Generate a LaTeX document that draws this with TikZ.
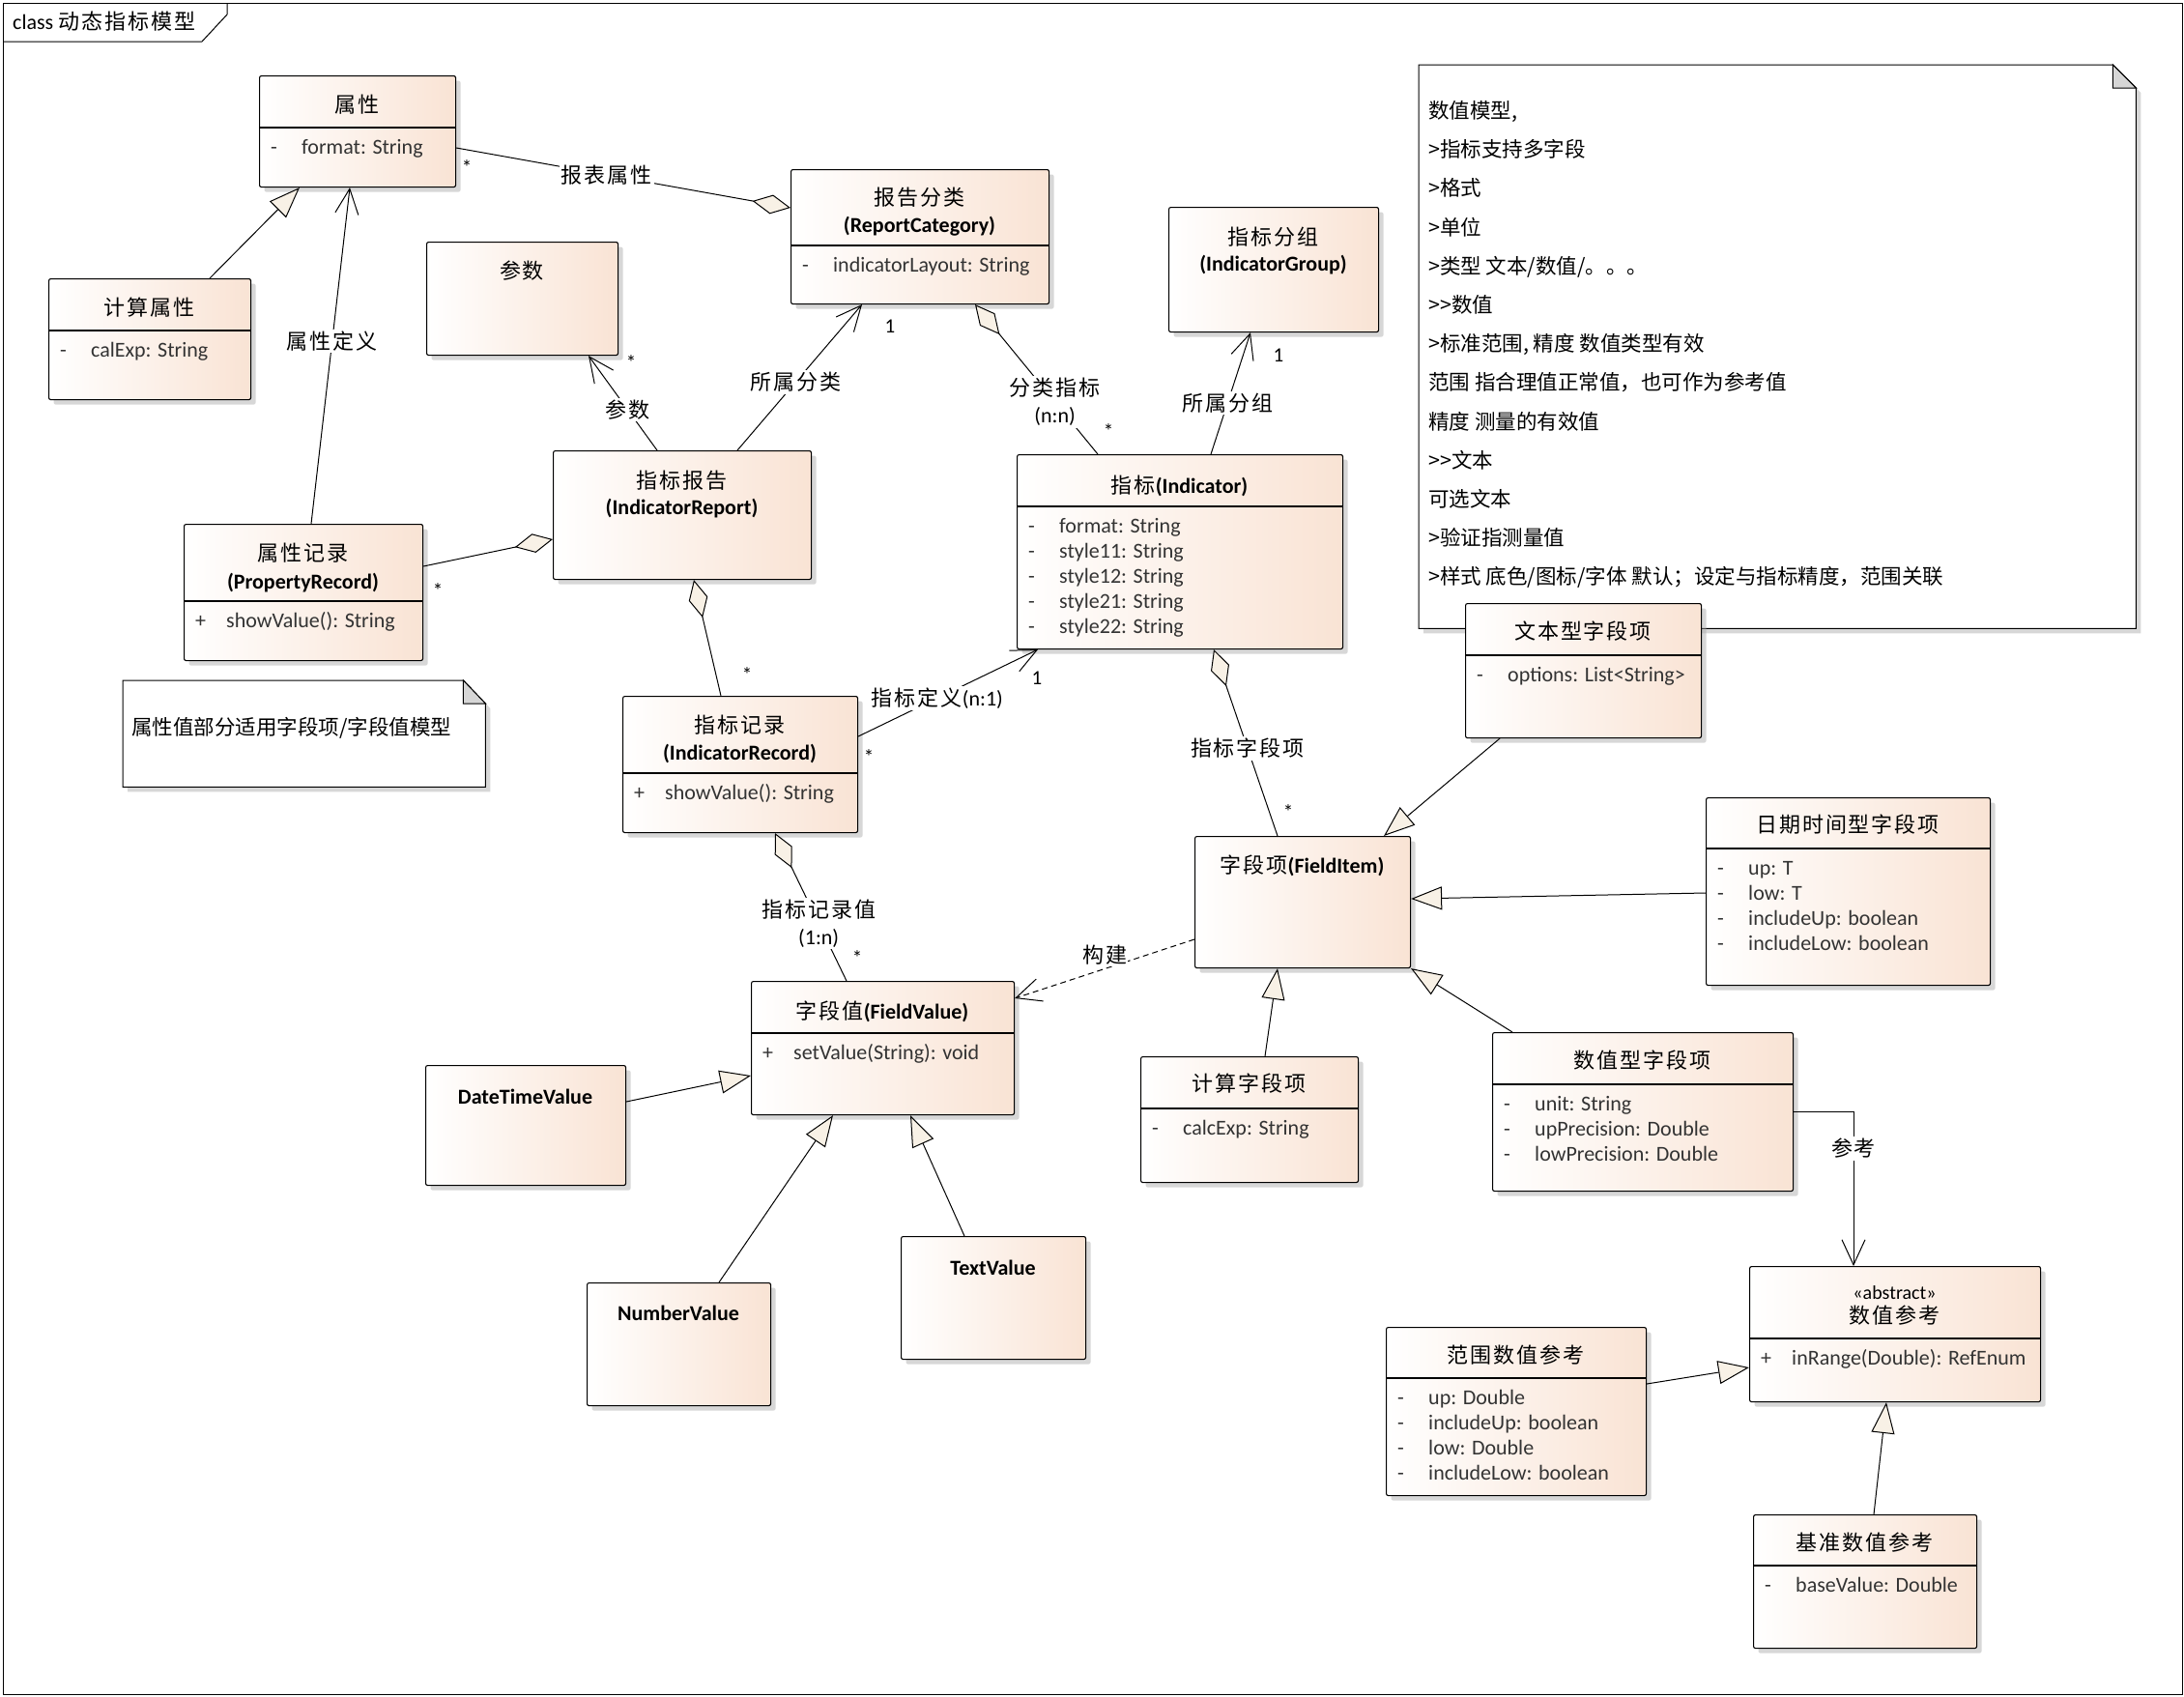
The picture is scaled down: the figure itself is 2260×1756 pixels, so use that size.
\documentclass[tikz,border=0pt]{standalone}
\usepackage{fontspec}
\setmainfont{Carlito}
\newfontfamily\cjk{Noto Sans CJK SC}
\newfontfamily\cjkw[LetterSpace=9]{Noto Sans CJK SC}
\usetikzlibrary{arrows.meta, shadows}
\definecolor{clspeach}{HTML}{F9E3D4}
\definecolor{tipfill}{HTML}{F8F1E6}
\definecolor{foldgray}{HTML}{D6D6D6}
\definecolor{membtext}{HTML}{333333}

\newcommand{\zh}[1]{{\cjkw #1}}
% divider plus one line per member
\newcommand{\members}[4]{%
  \draw[line width=1.1pt] ([yshift=-#2pt]#1.north west) -- ([yshift=-#2pt]#1.north east);
  \foreach \txt [count=\i from 0] in {#4} {%
    \node[vis] (#1-v\i) at ([xshift=12pt, yshift=-#2pt-22pt-26pt*\i]#1.north west) {#3};
    \node[memb] (#1-m\i) at ([xshift=44pt, yshift=-#2pt-22pt-26pt*\i]#1.north west) {\txt};
  }}

\begin{document}
\begin{tikzpicture}[
  x=1pt, y=-1pt,
  frm/.style={draw, line width=1pt, anchor=north west, inner sep=0pt},
  cls/.style={draw, line width=1.1pt, rounded corners=2pt, anchor=north west, inner sep=0pt,
    left color=white, right color=clspeach,
    drop shadow={shadow xshift=5pt, shadow yshift=-5pt, fill=black!35, opacity=.45}},
  notebox/.style={anchor=north west, inner sep=0pt},
  notedraw/.style={draw, line width=1pt, fill=white,
    drop shadow={shadow xshift=5pt, shadow yshift=-5pt, fill=black!35, opacity=.45}},
  fold/.style={draw, line width=1pt, fill=foldgray},
  ttl/.style={inner sep=0pt, font=\fontsize{22}{26}\selectfont, text height=18pt, text depth=1pt},
  memb/.style={anchor=west, inner sep=0pt, font=\fontsize{22}{26}\selectfont, text height=15pt, text depth=5pt, text=membtext},
  vis/.style={memb},
  notetxt/.style={anchor=west, inner sep=0pt, font=\cjk\fontsize{21.5}{26}\selectfont, text height=18pt, text depth=1pt},
  lbl/.style={fill=white, inner sep=2pt, align=center, font=\fontsize{22}{28}\selectfont},
  mult/.style={inner sep=0pt, font=\fontsize{21}{24}\selectfont},
  gen/.style={-{Triangle[length=32pt, width=24pt, fill=tipfill]}, line width=1pt},
  nav/.style={-{Straight Barb[length=26pt, width=24pt]}, line width=1pt},
  agg/.style={{Diamond[length=40pt, width=20pt, fill=tipfill]}-, line width=1pt},
  dep/.style={nav, dash pattern=on 6pt off 4pt}
]
\useasboundingbox (0,0) rectangle (2260,1756);

% frame
\node[frm, minimum width=2255pt, minimum height=1750pt] (frame) at (3,3) {};
\draw[line width=1pt] ([xshift=232pt]frame.north west) -- ([xshift=232pt, yshift=-12pt]frame.north west)
  -- ([xshift=206pt, yshift=-40pt]frame.north west) -- ([yshift=-40pt]frame.north west);
\node[anchor=west, inner sep=0pt, font=\fontsize{22}{26}\selectfont, text height=18pt, text depth=1pt] (frameT) at (13,22) {class \zh{动态指标模型}};

% notes
\node[notebox, minimum width=742pt, minimum height=583pt] (note1) at (1468,67) {};
\draw[notedraw] (note1.north west) -- ([xshift=-24pt]note1.north east) -- ([yshift=-24pt]note1.north east)
  -- (note1.south east) -- (note1.south west) -- cycle;
\draw[fold] ([xshift=-24pt]note1.north east) -- ([xshift=-24pt, yshift=-24pt]note1.north east) -- ([yshift=-24pt]note1.north east) -- cycle;
\foreach \ln [count=\i from 0] in {{数值模型,}, >指标支持多字段, >格式, >单位, >类型 文本/数值/。。。, >>数值,
    {>标准范围, 精度 数值类型有效}, 范围 指合理值正常值，也可作为参考值, 精度 测量的有效值, >>文本, 可选文本,
    >验证指测量值, >样式 底色/图标/字体 默认；设定与指标精度，范围关联}
  \node[notetxt] (note1-\i) at (1478,{114+40.2*\i}) {\ln};

\node[notebox, minimum width=375pt, minimum height=110pt] (note2) at (127,704) {};
\draw[notedraw] (note2.north west) -- ([xshift=-23pt]note2.north east) -- ([yshift=-24pt]note2.north east)
  -- (note2.south east) -- (note2.south west) -- cycle;
\draw[fold] ([xshift=-23pt]note2.north east) -- ([xshift=-23pt, yshift=-24pt]note2.north east) -- ([yshift=-24pt]note2.north east) -- cycle;
\node[notetxt] (note2T) at (136,752) {属性值部分适用字段项/字段值模型};

% classes
\node[cls, minimum width=203pt, minimum height=115pt] (prop) at (268,78) {};
\node[ttl] (propT) at (369.5,108) {\zh{属性}};
\members{prop}{54}{-}{format: String}

\node[cls, minimum width=209pt, minimum height=125pt] (calcProp) at (50,288) {};
\node[ttl] (calcPropT) at (154.5,318) {\zh{计算属性}};
\members{calcProp}{54}{-}{calExp: String}

\node[cls, minimum width=198pt, minimum height=117pt] (param) at (441,250) {};
\node[ttl] (paramT) at (540,280) {\zh{参数}};

\node[cls, minimum width=267pt, minimum height=139pt] (repCat) at (818,175) {};
\node[ttl] (repCatT) at (951.5,204) {\zh{报告分类}};
\node[ttl] (repCatS) at (951.5,232) {\bfseries (ReportCategory)};
\members{repCat}{79}{-}{indicatorLayout: String}

\node[cls, minimum width=217pt, minimum height=129pt] (indGrp) at (1209,214) {};
\node[ttl] (indGrpT) at (1317.5,245) {\zh{指标分组}};
\node[ttl] (indGrpS) at (1317.5,272) {\bfseries (IndicatorGroup)};

\node[cls, minimum width=337pt, minimum height=201pt] (ind) at (1052,470) {};
\node[ttl] (indT) at (1220.5,502) {\zh{指标}\bfseries(Indicator)};
\members{ind}{54}{-}{format: String, style11: String, style12: String, style21: String, style22: String}

\node[cls, minimum width=267pt, minimum height=133pt] (indRep) at (572,466) {};
\node[ttl] (indRepT) at (705.5,497) {\zh{指标报告}};
\node[ttl] (indRepS) at (705.5,524) {\bfseries (IndicatorReport)};

\node[cls, minimum width=247pt, minimum height=141pt] (propRec) at (190,542) {};
\node[ttl] (propRecT) at (313.5,572) {\zh{属性记录}};
\node[ttl] (propRecS) at (313.5,601) {\bfseries (PropertyRecord)};
\members{propRec}{80}{+}{showValue(): String}

\node[cls, minimum width=243pt, minimum height=141pt] (indRec) at (644,720) {};
\node[ttl] (indRecT) at (765.5,750) {\zh{指标记录}};
\node[ttl] (indRecS) at (765.5,778) {\bfseries (IndicatorRecord)};
\members{indRec}{80}{+}{showValue(): String}

\node[cls, minimum width=272pt, minimum height=138pt] (fldVal) at (777,1015) {};
\node[ttl] (fldValT) at (913,1046) {\zh{字段值}\bfseries(FieldValue)};
\members{fldVal}{54}{+}{setValue(String): void}

\node[cls, minimum width=207pt, minimum height=124pt] (dtVal) at (440,1102) {};
\node[ttl] (dtValT) at (543.5,1134) {\bfseries DateTimeValue};

\node[cls, minimum width=190pt, minimum height=127pt] (numVal) at (607,1327) {};
\node[ttl] (numValT) at (702,1358) {\bfseries NumberValue};

\node[cls, minimum width=191pt, minimum height=127pt] (txtVal) at (932,1279) {};
\node[ttl] (txtValT) at (1027.5,1311) {\bfseries TextValue};

\node[cls, minimum width=223pt, minimum height=136pt] (fldItem) at (1236,865) {};
\node[ttl] (fldItemT) at (1347.5,895) {\zh{字段项}\bfseries(FieldItem)};

\node[cls, minimum width=244pt, minimum height=139pt] (txtItem) at (1516,624) {};
\node[ttl] (txtItemT) at (1638,653) {\zh{文本型字段项}};
\members{txtItem}{54}{-}{options: List<String>}

\node[cls, minimum width=294pt, minimum height=194pt] (dtItem) at (1765,825) {};
\node[ttl] (dtItemT) at (1912,853) {\zh{日期时间型字段项}};
\members{dtItem}{53}{-}{up: T, low: T, includeUp: boolean, includeLow: boolean}

\node[cls, minimum width=225pt, minimum height=130pt] (calcItem) at (1180,1093) {};
\node[ttl] (calcItemT) at (1292.5,1121) {\zh{计算字段项}};
\members{calcItem}{54}{-}{calcExp: String}

\node[cls, minimum width=311pt, minimum height=164pt] (numItem) at (1544,1068) {};
\node[ttl] (numItemT) at (1699.5,1097) {\zh{数值型字段项}};
\members{numItem}{54}{-}{unit: String, upPrecision: Double, lowPrecision: Double}

\node[cls, minimum width=301pt, minimum height=140pt] (numRef) at (1810,1310) {};
\node[ttl, font=\fontsize{20}{24}\selectfont] (numRefA) at (1960.5,1336) {«abstract»};
\node[ttl] (numRefT) at (1960.5,1361) {\zh{数值参考}};
\members{numRef}{75}{+}{inRange(Double): RefEnum}

\node[cls, minimum width=269pt, minimum height=174pt] (rngRef) at (1434,1373) {};
\node[ttl] (rngRefT) at (1568.5,1402) {\zh{范围数值参考}};
\members{rngRef}{53}{-}{up: Double, includeUp: boolean, low: Double, includeLow: boolean}

\node[cls, minimum width=231pt, minimum height=138pt] (baseRef) at (1814,1567) {};
\node[ttl] (baseRefT) at (1929.5,1596) {\zh{基准数值参考}};
\members{baseRef}{53}{-}{baseValue: Double}

% connectors
\draw[gen] ([xshift=167pt]calcProp.north west) -- ([xshift=42pt]prop.south west);
\draw[nav] ([xshift=132pt]propRec.north west) -- node[lbl, pos=0.544] {\zh{属性定义}} ([xshift=94pt]prop.south west);
\draw[agg] ([yshift=-40pt]repCat.north west) -- node[lbl, pos=0.55] {\zh{报表属性}} ([yshift=-75pt]prop.north east);
\draw[nav] ([xshift=108pt]indRep.north west) -- node[lbl, pos=0.43] {\zh{参数}} ([xshift=168pt]param.south west);
\draw[nav] ([xshift=191pt]indRep.north west) -- node[lbl, pos=0.467] {\zh{所属分类}} ([xshift=74pt]repCat.south west);
\draw[agg] ([xshift=191pt]repCat.south west) -- node[lbl, pos=0.65] {\zh{分类指标}\\(n:n)} ([xshift=84pt]ind.north west);
\draw[nav] ([xshift=201pt]ind.north west) -- node[lbl, pos=0.42] {\zh{所属分组}} ([xshift=85pt]indGrp.south west);
\draw[agg] ([yshift=-92pt]indRep.north west) -- ([yshift=-44pt]propRec.north east);
\draw[agg] ([xshift=146pt]indRep.south west) -- ([xshift=102pt]indRec.north west);
\draw[nav] ([yshift=-42pt]indRec.north east) -- node[lbl, pos=0.44] {\zh{指标定义}(n:1)} ([xshift=22pt]ind.south west);
\draw[agg] ([xshift=204pt]ind.south west) -- node[lbl, pos=0.53] {\zh{指标字段项}} ([xshift=86pt]fldItem.north west);
\draw[agg] ([xshift=158pt]indRec.south west) -- node[lbl, pos=0.61] {\zh{指标记录值}\\(1:n)} ([xshift=99pt]fldVal.north west);
\draw[dep] ([yshift=-107pt]fldItem.north west) -- node[lbl, pos=0.5, yshift=14pt, inner sep=1pt] {\zh{构建}} ([yshift=-18pt]fldVal.north east);
\draw[gen] ([yshift=-38pt]dtVal.north east) -- ([yshift=-98pt]fldVal.north west);
\draw[gen] ([xshift=137pt]numVal.north west) -- ([xshift=85pt]fldVal.south west);
\draw[gen] ([xshift=66pt]txtVal.north west) -- ([xshift=165pt]fldVal.south west);
\draw[gen] ([xshift=36pt]txtItem.south west) -- ([xshift=196pt]fldItem.north west);
\draw[gen] ([yshift=-99pt]dtItem.north west) -- ([yshift=-65pt]fldItem.north east);
\draw[gen] ([xshift=129pt]calcItem.north west) -- ([xshift=86pt]fldItem.south west);
\draw[gen] ([xshift=21pt]numItem.north west) -- (fldItem.south east);
\draw[nav] ([yshift=-82pt]numItem.north east) -| node[lbl, pos=0.62] {\zh{参考}} ([xshift=108pt]numRef.north west);
\draw[gen] ([yshift=-59pt]rngRef.north east) -- ([yshift=-105pt]numRef.north west);
\draw[gen] ([xshift=125pt]baseRef.north west) -- ([xshift=142pt]numRef.south west);

% multiplicities
\node[mult] (mPropStar) at (483,173) {*};
\node[mult] (mParamStar) at (653,375) {*};
\node[mult] (mRepCatOne) at (921,338) {1};
\node[mult] (mCatIndStar) at (1147,446) {*};
\node[mult] (mGrpOne) at (1323,368) {1};
\node[mult] (mPropRecStar) at (453,611) {*};
\node[mult] (mIndRecStar) at (773,698) {*};
\node[mult] (mIndOne) at (1073,702) {1};
\node[mult] (mDefStar) at (899,783) {*};
\node[mult] (mFldItemStar) at (1333,840) {*};
\node[mult] (mFldValStar) at (887,991) {*};
\end{tikzpicture}
\end{document}
